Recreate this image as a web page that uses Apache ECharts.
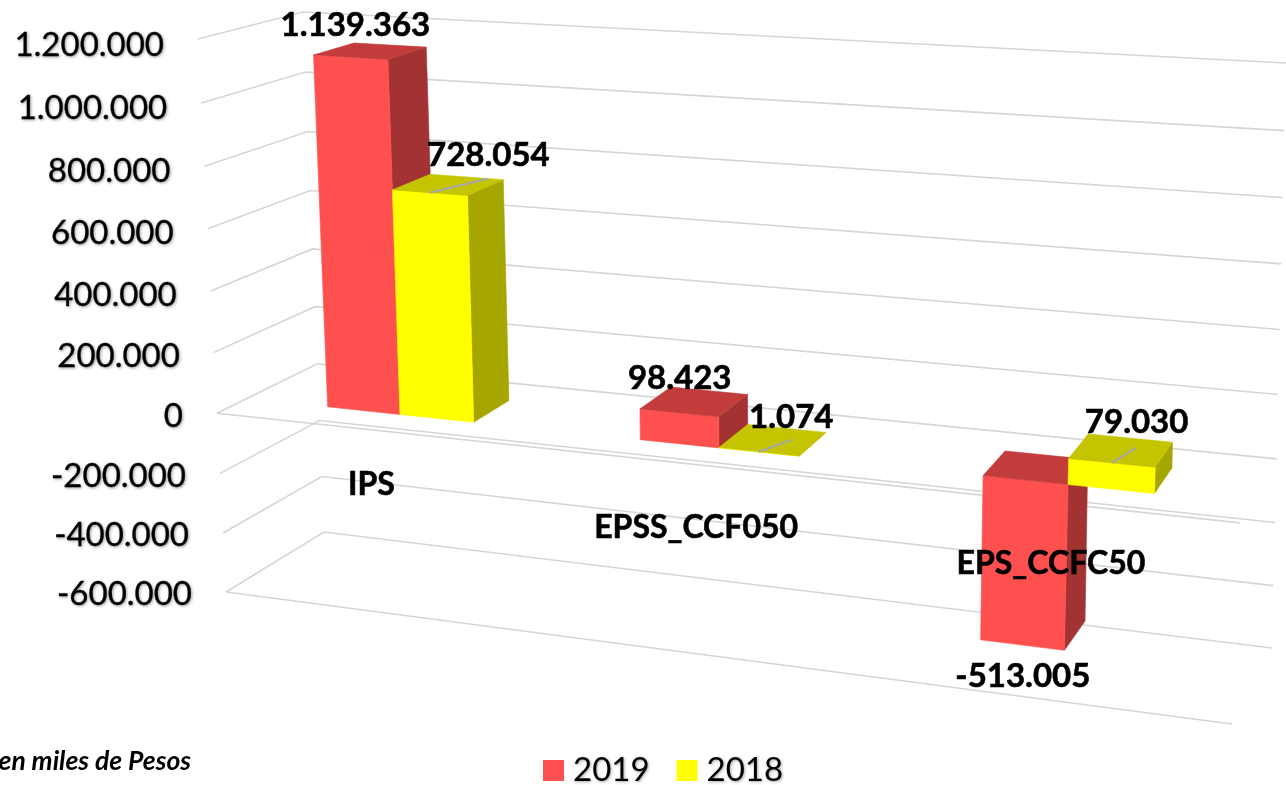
<!DOCTYPE html>
<html>
<head>
<meta charset="utf-8">
<style>html,body{margin:0;padding:0;background:#fff;overflow:hidden}#c{width:1286px;height:785px}</style>
<script src="https://cdn.jsdelivr.net/npm/echarts@6/dist/echarts.min.js"></script>
</head>
<body>
<div id="c"></div>
<script>
// ---- data ----
var categories = ['IPS', 'EPSS_CCF050', 'EPS_CCFC50'];
var values2019 = [1139363, 98423, -513005];
var values2018 = [728054, 1074, 79030];
var tickValues = [-600000, -400000, -200000, 0, 200000, 400000, 600000, 800000, 1000000, 1200000];
var tickLabels = ['-600.000', '-400.000', '-200.000', '0', '200.000', '400.000', '600.000', '800.000', '1.000.000', '1.200.000'];
var valueLabels2019 = ['1.139.363', '98.423', '-513.005'];
var valueLabels2018 = ['728.054', '1.074', '79.030'];

// ---- look ----
var FONT = 'Lato, Carlito, "Open Sans", sans-serif';
var RED = {front: '#FF5050', top: '#C23C3C', side: '#A33333'};
var YEL = {front: '#FFFF00', top: '#C4C400', side: '#A6A600'};
var GRID = {left: 218, top: 43, width: 1022, height: 549};
var labelNudge2019 = [[-12, -26], [-14, -24], [-9, 46]];
var labelNudge2018 = [[43, -29], [19, -23], [17, -28]];
var categoryNudge = [[-1, -2], [-2, 4], [0, 0]];
var leaderVector = [[58, -14], [33, -12], [24, -15]];
var barShift = [0.0025, 0, 0.001];

// corners of the tilted 3D box: first index across, second depth, third height
var BOX = {
  l0b: [226, 592], l0t: [198, 39],
  l1b: [324, 532], l1t: [303, 12],
  r0b: [1232, 724], r0t: [1257, 102],
  r1b: [1272, 648], r1t: [1286, 63]
};
var BAR_W = 0.079, W_FRONT = 0.3, W_BACK = 0.71;
var TEXT_SHADOW = {shadowColor: 'rgba(0,0,0,0.35)', shadowBlur: 3, shadowOffsetX: 1, shadowOffsetY: 1};

function mix(a, b, k) { return [a[0] + (b[0] - a[0]) * k, a[1] + (b[1] - a[1]) * k]; }
function heightPerspective(t) { return t + 0.045 * t * (t - 1); }
function acrossPerspective(p) { return p + 0.12 * p * (p - 1); }
function project(p, w, t) {
  var s = heightPerspective(t), u = acrossPerspective(p);
  var l0 = mix(BOX.l0b, BOX.l0t, s), l1 = mix(BOX.l1b, BOX.l1t, s);
  var r0 = mix(BOX.r0b, BOX.r0t, s), r1 = mix(BOX.r1b, BOX.r1t, s);
  return mix(mix(l0, l1, w), mix(r0, r1, w), u);
}
function poly(points, fill) {
  return {type: 'polygon', shape: {points: points}, style: {fill: fill, stroke: fill, lineWidth: 0.6}};
}
function line(points, color, width) {
  return {type: 'polyline', shape: {points: points}, style: {fill: null, stroke: color, lineWidth: width}};
}
function norm(params, api, cat, val) {
  var c = api.coord([cat, val]), g = params.coordSys;
  return {p: (c[0] - g.x) / g.width, t: (g.y + g.height - c[1]) / g.height};
}
function boldText(text, x, y, size) {
  return {type: 'text', x: x, y: y, style: Object.assign({
    text: text, font: 'bold ' + size + 'px ' + FONT, fill: '#000', stroke: '#000', lineWidth: 0.6,
    align: 'center', verticalAlign: 'middle'
  }, TEXT_SHADOW)};
}

function gridItem(params, api) {
  var v = api.value(1), n = norm(params, api, 0, v);
  var pts = [project(0, 0, n.t), project(0, 1, n.t), project(1, 1, n.t)];
  var kids = [line(pts, '#D6D6D6', 1.6)];
  if (v === 0 || v === tickValues[0]) {
    kids.push(line([project(0, 0, n.t), project(1, 0, n.t)], '#D6D6D6', 1.6));
  }
  return {type: 'group', children: kids};
}

function barItem(side, col, leader) {
  return function (params, api) {
    var cat = api.value(0), v = api.value(1);
    var n = norm(params, api, cat, v), z = norm(params, api, cat, 0);
    var p0 = n.p + barShift[cat] + (side < 0 ? -BAR_W : 0), p1 = p0 + BAR_W;
    var hi = Math.max(n.t, z.t), lo = Math.min(n.t, z.t);
    var front = [project(p0, W_FRONT, lo), project(p1, W_FRONT, lo), project(p1, W_FRONT, hi), project(p0, W_FRONT, hi)];
    var right = [project(p1, W_FRONT, lo), project(p1, W_BACK, lo), project(p1, W_BACK, hi), project(p1, W_FRONT, hi)];
    var top = [project(p0, W_FRONT, hi), project(p1, W_FRONT, hi), project(p1, W_BACK, hi), project(p0, W_BACK, hi)];
    var kids = [poly(right, col.side), poly(front, col.front), poly(top, col.top)];
    if (leader) {
      var a = project((p0 + p1) / 2, W_FRONT, hi), d = leaderVector[cat];
      kids.push(line([a, [a[0] + d[0], a[1] + d[1]]], '#A6A6A6', 2));
    }
    return {type: 'group', children: kids};
  };
}

function valueLabelItem(side, texts, nudges) {
  return function (params, api) {
    var cat = api.value(0), v = api.value(1), n = norm(params, api, cat, v);
    var a = project(n.p + side * BAR_W / 2, 0.5, n.t), d = nudges[cat];
    return boldText(texts[cat], a[0] + d[0], a[1] + d[1], 33);
  };
}

function categoryLabelItem(params, api) {
  var cat = api.value(0), n = norm(params, api, cat, -185000), a = project(n.p, 0, n.t), d = categoryNudge[cat];
  return boldText(categories[cat], a[0] + d[0], a[1] + d[1], 32);
}

// tick labels follow the tilted left edge, so each one gets its own small shift
var tickRich = {};
tickValues.forEach(function (v, i) {
  var t = (v - tickValues[0]) / (tickValues[tickValues.length - 1] - tickValues[0]);
  var s = heightPerspective(t);
  var down = (t - s) * GRID.height;
  tickRich['k' + i] = {
    fontFamily: FONT, fontSize: 33, color: '#000', padding: [down * 2 + 4, 28 * s, 0, 0],
    textBorderColor: '#000', textBorderWidth: 0.3,
    textShadowColor: 'rgba(0,0,0,0.35)', textShadowBlur: 3, textShadowOffsetX: 1, textShadowOffsetY: 1
  };
});

function rows(vals) { return vals.map(function (v, i) { return [i, v]; }); }
function customSeries(name, data, renderItem, z) {
  return {type: 'custom', name: name, coordinateSystem: 'cartesian2d', data: data, renderItem: renderItem,
    encode: {x: 0, y: 1}, z: z, silent: true, clip: false, animation: false};
}

var s2019 = customSeries('2019', rows(values2019), barItem(-1, RED, false), 3);
s2019.itemStyle = {color: RED.front};
var s2018 = customSeries('2018', rows(values2018), barItem(1, YEL, true), 4);
s2018.itemStyle = {color: YEL.front};

var option = {
  backgroundColor: '#fff',
  animation: false,
  title: {
    text: 'en miles de Pesos', right: 1090, top: 743,
    textStyle: {fontFamily: FONT, fontSize: 26.5, fontWeight: 'bold', fontStyle: 'italic', color: '#000'}
  },
  legend: {
    data: ['2019', '2018'], left: 538, top: 749, itemWidth: 21, itemHeight: 21, itemGap: 27, icon: 'rect',
    textStyle: {fontFamily: FONT, fontSize: 33, color: '#000', padding: [0, 0, 0, 4], textShadowColor: 'rgba(0,0,0,0.35)', textShadowBlur: 3, textShadowOffsetX: 1, textShadowOffsetY: 1}
  },
  grid: {left: GRID.left, top: GRID.top, width: GRID.width, height: GRID.height},
  xAxis: {type: 'category', data: categories, show: false},
  yAxis: {
    type: 'value', min: tickValues[0], max: tickValues[tickValues.length - 1], interval: 200000,
    axisLine: {show: false}, axisTick: {show: false}, splitLine: {show: false},
    axisLabel: {
      margin: 26, align: 'right', rich: tickRich,
      formatter: function (v) {
        var i = tickValues.indexOf(v);
        return '{k' + i + '|' + tickLabels[i] + '}';
      }
    }
  },
  series: [
    customSeries('walls', tickValues.map(function (v) { return [0, v]; }), gridItem, 1),
    s2019,
    s2018,
    customSeries('labels2019', rows(values2019), valueLabelItem(-1, valueLabels2019, labelNudge2019), 6),
    customSeries('labels2018', rows(values2018), valueLabelItem(1, valueLabels2018, labelNudge2018), 6),
    customSeries('categoryLabels', rows(categories.map(function () { return 0; })), categoryLabelItem, 6)
  ]
};
var chart = echarts.init(document.getElementById('c'), null, {renderer: 'canvas'});
chart.setOption(option);
</script>
</body>
</html>
